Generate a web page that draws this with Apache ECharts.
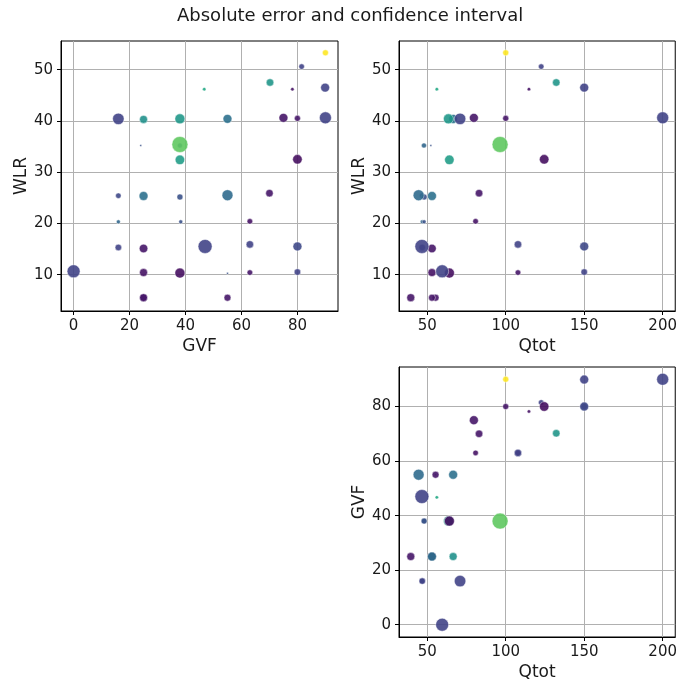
<!DOCTYPE html>
<html>
<head>
<meta charset="utf-8">
<script src="https://cdn.jsdelivr.net/npm/echarts@6/dist/echarts.min.js"></script>
<style>html,body{margin:0;padding:0;background:#fff}#c{width:680px;height:687px}</style>
</head>
<body>
<div id="c"></div>
<script>
// Data: one entry per measured point
const GVF  = [90, 81.5, 70.2, 46.7, 78.2, 89.9, 16, 25, 38, 55, 75, 80, 90, 24, 38, 38, 80, 16, 25, 38, 55, 70, 16, 38.3, 63, 16, 25, 47, 63, 80, 0, 25, 38, 55, 63, 80, 25, 55, 38, 25];
const WLR  = [53.3, 50.6, 47.5, 46.2, 46.2, 46.5, 40.4, 40.3, 40.4, 40.4, 40.6, 40.5, 40.6, 35.2, 35.4, 32.4, 32.5, 25.4, 25.35, 25.15, 25.5, 25.9, 20.3, 20.3, 20.4, 15.3, 15.1, 15.5, 15.9, 15.5, 10.65, 10.4, 10.3, 10.25, 10.4, 10.5, 5.5, 5.5, 35.2, 5.5];
const Qtot = [100, 122.6, 132.2, 56.1, 114.8, 150, 70.9, 66.5, 63.5, 66.5, 79.7, 100, 200, 52.3, 96.4, 64.1, 124.5, 46.8, 53, 48, 44.5, 83, 46.8, 48, 80.8, 46.8, 53, 46.6, 107.8, 150, 59.5, 53, 64.1, 55.3, 107.8, 150, 39.5, 55.3, 47.9, 53];
const absErr = [1.0, 0.2, 0.52, 0.6, 0.05, 0.2, 0.2, 0.5, 0.53, 0.37, 0.06, 0.06, 0.2, 0.25, 0.75, 0.55, 0.04, 0.22, 0.37, 0.25, 0.35, 0.06, 0.33, 0.25, 0.05, 0.2, 0.06, 0.2, 0.2, 0.22, 0.2, 0.05, 0.04, 0.25, 0.06, 0.2, 0.06, 0.06, 0.33, 0.06];
const confInt = [9, 7.6, 14, 3, 3, 20, 33, 16, 25, 20, 20, 9, 36, 1, 64, 22.5, 22.5, 7.6, 20, 9, 30, 14, 4, 4, 7.6, 10.6, 18, 49, 14, 20, 42, 16, 25, 1, 7.6, 10.6, 16, 12, 6.3, 12];

const gvfTicks = [0, 20, 40, 60, 80];
const wlrTicks = [10, 20, 30, 40, 50];
const qtotTicks = [50, 100, 150, 200];

const viridis = ['#440154','#482475','#414487','#355f8d','#2a788e','#21918c','#22a884','#44bf70','#7ad151','#bddf26','#fde725'];

const FONT = 'DejaVu Sans';
const TXT = '#1a1a1a';

// draw smaller bubbles first so larger ones sit on top
const order = confInt.map((_, i) => i).sort((a, b) => confInt[a] - confInt[b]);

function pts(xs, ys) {
  return order.map(i => [xs[i], ys[i], absErr[i], confInt[i]]);
}

function xAxis(idx, name, min, max, ticks) {
  return {
    type: 'value', gridIndex: idx, min: min, max: max,
    name: name, nameLocation: 'middle', nameGap: 27,
    nameTextStyle: {fontFamily: FONT, fontSize: 17, color: TXT},
    axisLine: {show: true, onZero: false, lineStyle: {color: '#000', width: 1}},
    axisTick: {show: true, length: 4, customValues: ticks, lineStyle: {color: '#000'}},
    axisLabel: {customValues: ticks, fontFamily: FONT, fontSize: 15, color: TXT, margin: 8},
    splitLine: {show: true, lineStyle: {color: '#b0b0b0', width: 1}}
  };
}
function yAxis(idx, name, min, max, ticks) {
  return {
    type: 'value', gridIndex: idx, min: min, max: max,
    name: name, nameLocation: 'middle', nameGap: 31, nameRotate: 90,
    nameTextStyle: {fontFamily: FONT, fontSize: 17, color: TXT},
    axisLine: {show: true, onZero: false, lineStyle: {color: '#000', width: 1}},
    axisTick: {show: true, length: 4, customValues: ticks, lineStyle: {color: '#000'}},
    axisLabel: {customValues: ticks, fontFamily: FONT, fontSize: 15, color: TXT, margin: 8},
    splitLine: {show: true, lineStyle: {color: '#b0b0b0', width: 1}}
  };
}

const gridBox = {show: true, borderColor: '#000', borderWidth: 1, backgroundColor: 'transparent'};

function scatter(idx, data) {
  return {
    type: 'scatter', xAxisIndex: idx, yAxisIndex: idx, data: data,
    symbolSize: v => Math.sqrt(v[3]) * 2,
    itemStyle: {opacity: 0.9, borderColor: '#ffffff', borderWidth: 0.5},
    emphasis: {disabled: true}
  };
}

const chart = echarts.init(document.getElementById('c'), null, {renderer: 'canvas'});
chart.setOption({
  animation: false,
  backgroundColor: '#fff',
  title: {
    text: 'Absolute error and confidence interval', left: 172, top: 2,
    textStyle: {fontFamily: FONT, fontSize: 18, fontWeight: 'normal', color: TXT}
  },
  grid: [
    Object.assign({left: 61, top: 41, width: 277, height: 270}, gridBox),
    Object.assign({left: 399, top: 41, width: 277, height: 270}, gridBox),
    Object.assign({left: 399, top: 367, width: 277, height: 270}, gridBox)
  ],
  xAxis: [
    xAxis(0, 'GVF', -4.5, 94.5, gvfTicks),
    xAxis(1, 'Qtot', 32, 208, qtotTicks),
    xAxis(2, 'Qtot', 32, 208, qtotTicks)
  ],
  yAxis: [
    yAxis(0, 'WLR', 2.9, 55.6, wlrTicks),
    yAxis(1, 'WLR', 2.9, 55.6, wlrTicks),
    yAxis(2, 'GVF', -4.5, 94.5, gvfTicks)
  ],
  visualMap: {
    show: false, type: 'continuous', min: 0, max: 1, dimension: 2,
    inRange: {color: viridis}
  },
  series: [
    scatter(0, pts(GVF, WLR)),
    scatter(1, pts(Qtot, WLR)),
    scatter(2, pts(Qtot, GVF))
  ]
});
</script>
</body>
</html>
